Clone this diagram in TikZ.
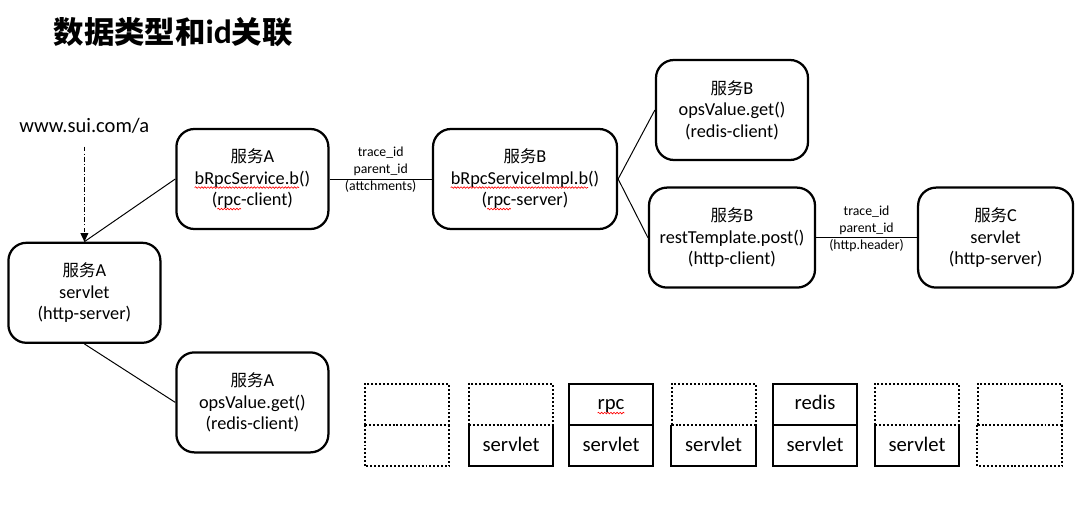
\documentclass[tikz,border=0pt]{standalone}
\usepackage{fontspec}
\setmainfont{Carlito}
\newfontfamily\cjk[Scale=0.9]{Noto Sans CJK SC}
\usepackage{xcolor}
\usetikzlibrary{arrows.meta,positioning,decorations.pathmorphing}
\newcommand\typo[1]{\tikz[baseline=(typoword.base)]{\node[inner sep=0pt,outer sep=0pt,minimum width=0pt,minimum height=0pt,draw=none,align=left,anchor=base,text height=,text depth=] (typoword) {#1};
  \draw[overlay,red,line width=0.45pt,rounded corners=0pt,decorate,decoration={snake,amplitude=0.55pt,segment length=2.2pt}] ([yshift=-2.2pt]typoword.base west) -- ([yshift=-2.2pt]typoword.base east);}}

\begin{document}
\begin{tikzpicture}[
    svc/.style={draw,line width=1.6pt,rounded corners=0.45cm,minimum width=3.8cm,minimum height=2.5cm,align=center,font=\fontsize{13}{15.3}\selectfont},
    idlabel/.style={align=center,font=\fontsize{9.8}{12.1}\selectfont},
    link/.style={line width=0.7pt},
    urlarrow/.style={-{Triangle[width=5.5pt,length=6pt]},line width=0.7pt,dash pattern=on 3.5pt off 1.5pt on 0.7pt off 1.5pt},
    cell/.style={minimum width=2.1cm,minimum height=1.025cm,inner sep=0pt,text height=0.95em,text depth=0.16em,font=\fontsize{14.7}{16}\selectfont},
    emptycell/.style={cell,draw,line width=1.4pt,dash pattern=on 1.4pt off 1.4pt},
    fullcell/.style={cell,draw,line width=1.4pt},
    cellside/.style={line width=1.4pt},
    dotside/.style={line width=1.4pt,dash pattern=on 1.4pt off 1.4pt}
]
\useasboundingbox (0,0) rectangle (27.275,-12.675);

% Title
\node[font=\fontsize{24}{28}\selectfont] (title) at (4.33,-0.8) {{\cjk\bfseries 数据类型和}\textbf{id}{\cjk\bfseries 关联}};

% Services
\node[font=\fontsize{14.6}{17}\selectfont] (url) at (2.11,-3.15) {www.sui.com/a};
\node[svc] (servA) at (2.11,-7.32) {{\cjk 服务}A\\servlet\\(http-server)};
\node[svc] (cliA) at (6.31,-4.475) {{\cjk 服务}A\\\typo{bRpcService.b}()\\(\typo{rpc}-client)};
\node[svc] (redA) at (6.31,-10.06) {{\cjk 服务}A\\opsValue.get()\\(redis-client)};
\node[svc,minimum width=4.6cm] (srvB) at (13.125,-4.475) {{\cjk 服务}B\\\typo{bRpcServiceImpl.b}()\\(\typo{rpc}-server)};
\node[svc] (redB) at (18.3,-2.75) {{\cjk 服务}B\\opsValue.get()\\(redis-client)};
\node[svc,minimum width=4.15cm] (httpB) at (18.3,-5.94) {{\cjk 服务}B\\restTemplate.post()\\(http-client)};
\node[svc,minimum width=3.875cm] (srvC) at (24.89,-5.94) {{\cjk 服务}C\\servlet\\(http-server)};

% Calls
\draw[urlarrow] ([yshift=-0.2cm]url.south) -- (servA.north);
\draw[link] (cliA.west) -- (servA.north);
\draw[link] (servA.south) -- (redA.west);
\draw[link] (cliA.east) -- node[idlabel,yshift=0.225cm] {trace\_id\\parent\_id\\(attchments)} (srvB.west);
\draw[link] (srvB.east) -- (redB.west);
\draw[link] (srvB.east) -- (httpB.west);
\draw[link] (httpB.east) -- node[idlabel,yshift=0.225cm] {trace\_id\\parent\_id\\(http.header)} (srvC.west);

% Span stacks
\node[emptycell] (t1) at (10.175,-10.11) {};
\node[cell] (b1) at (10.175,-11.14) {};
\draw[dotside] (b1.north west) -- (b1.south west) -- (b1.south east) -- (b1.north east);

\node[emptycell] (t2) at (12.775,-10.11) {};
\node[cell] (b2) at (12.775,-11.14) {servlet};
\draw[cellside] (b2.north west) -- (b2.south west) -- (b2.south east) -- (b2.north east);

\node[fullcell] (t3) at (15.275,-10.11) {\typo{rpc}};
\node[fullcell] (b3) at (15.275,-11.14) {servlet};

\node[emptycell] (t4) at (17.84,-10.11) {};
\node[cell] (b4) at (17.84,-11.14) {servlet};
\draw[cellside] (b4.north west) -- (b4.south west) -- (b4.south east) -- (b4.north east);

\node[fullcell] (t5) at (20.375,-10.11) {redis};
\node[fullcell] (b5) at (20.375,-11.14) {servlet};

\node[emptycell] (t6) at (22.925,-10.11) {};
\node[cell] (b6) at (22.925,-11.14) {servlet};
\draw[cellside] (b6.north west) -- (b6.south west) -- (b6.south east) -- (b6.north east);

\node[emptycell] (t7) at (25.49,-10.11) {};
\node[cell] (b7) at (25.49,-11.14) {};
\draw[dotside] (b7.north west) -- (b7.south west) -- (b7.south east) -- (b7.north east);
\end{tikzpicture}
\end{document}
